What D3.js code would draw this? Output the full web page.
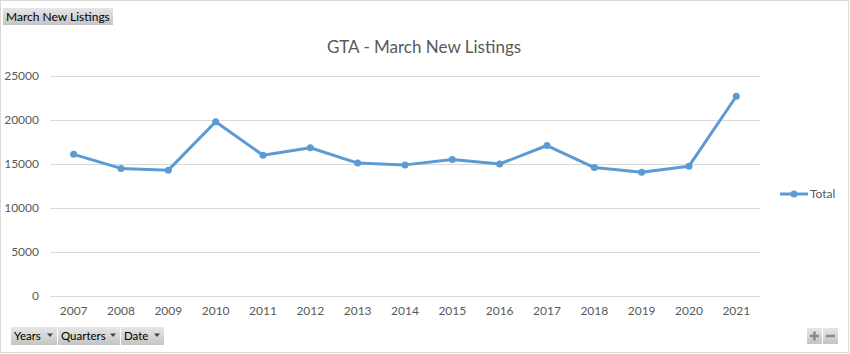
<!DOCTYPE html>
<html>
<head>
<meta charset="utf-8">
<script src="https://cdn.jsdelivr.net/npm/d3@7"></script>
<style>
  body { margin: 0; background: #fff; }
  svg { display: block; font-family: Lato, "Open Sans", sans-serif; }
</style>
</head>
<body>
<div id="chart"></div>
<script>
// GTA March new listings
const years = ["2007", "2008", "2009", "2010", "2011", "2012", "2013", "2014",
               "2015", "2016", "2017", "2018", "2019", "2020", "2021"];
const totals = [16100, 14500, 14300, 19800, 16000, 16850, 15100, 14900,
                15500, 15000, 17100, 14600, 14050, 14750, 22700];
const yTicks = [0, 5000, 10000, 15000, 20000, 25000];
const seriesName = "Total";
const chartTitle = "GTA - March New Listings";
const fieldButtons = ["Years", "Quarters", "Date"];

const width = 850, height = 354;
const plot = { left: 50, right: 760, top: 76, bottom: 296 };
const blue = "#5b9bd5";

const svg = d3.select("#chart").append("svg")
  .attr("width", width)
  .attr("height", height);

const defs = svg.append("defs");
const grad = defs.append("linearGradient")
  .attr("id", "btn").attr("x1", 0).attr("y1", 0).attr("x2", 0).attr("y2", 1);
grad.append("stop").attr("offset", "0%").attr("stop-color", "#e6e6e6");
grad.append("stop").attr("offset", "100%").attr("stop-color", "#c4c4c4");

// outer frame
svg.append("rect")
  .attr("x", 0.5).attr("y", 0.5)
  .attr("width", width - 2).attr("height", height - 2)
  .attr("fill", "#fff")
  .attr("stroke", "#d9d9d9");

const x = d3.scaleBand()
  .domain(years)
  .range([plot.left, plot.right]);

const y = d3.scaleLinear()
  .domain([0, 25000])
  .range([plot.bottom, plot.top]);

// gridlines
svg.append("g")
  .selectAll("line")
  .data(yTicks)
  .join("line")
  .attr("x1", plot.left).attr("x2", plot.right)
  .attr("y1", d => Math.round(y(d)) + 0.5)
  .attr("y2", d => Math.round(y(d)) + 0.5)
  .attr("stroke", "#d9d9d9")
  .attr("stroke-width", 1);

// y axis labels
const yAxis = svg.append("g")
  .attr("transform", `translate(${plot.left},0)`)
  .call(d3.axisLeft(y).tickValues(yTicks).tickSize(0).tickPadding(11).tickFormat(d3.format("d")));
yAxis.select(".domain").remove();
yAxis.selectAll("text")
  .attr("fill", "#595959")
  .style("font-size", "12px")
  .style("font-family", "Lato, sans-serif");

// x axis labels
const xAxis = svg.append("g")
  .attr("transform", `translate(0,${plot.bottom})`)
  .call(d3.axisBottom(x).tickSize(0).tickPadding(10));
xAxis.select(".domain").remove();
xAxis.selectAll("text")
  .attr("fill", "#595959")
  .style("font-size", "12px")
  .style("font-family", "Lato, sans-serif");

// title
svg.append("text")
  .attr("x", (plot.left + plot.right) / 2 + 19)
  .attr("y", 53)
  .attr("text-anchor", "middle")
  .attr("fill", "#595959")
  .style("font-size", "17px")
  .text(chartTitle);

// series
const line = d3.line()
  .x((d, i) => x(years[i]) + x.bandwidth() / 2)
  .y(d => y(d));

svg.append("path")
  .datum(totals)
  .attr("d", line)
  .attr("fill", "none")
  .attr("stroke", blue)
  .attr("stroke-width", 3)
  .attr("stroke-linejoin", "round");

svg.append("g")
  .selectAll("circle")
  .data(totals)
  .join("circle")
  .attr("cx", (d, i) => x(years[i]) + x.bandwidth() / 2)
  .attr("cy", d => y(d))
  .attr("r", 3.5)
  .attr("fill", blue);

// legend
const legend = svg.append("g").attr("transform", "translate(780,194)");
legend.append("line")
  .attr("x1", 0).attr("x2", 28)
  .attr("stroke", blue).attr("stroke-width", 3);
legend.append("circle")
  .attr("cx", 14).attr("r", 3.5).attr("fill", blue);
legend.append("text")
  .attr("x", 30).attr("y", 4)
  .attr("fill", "#595959")
  .style("font-size", "12px")
  .text(seriesName);

// pivot chart field buttons
function button(g, bx, by, bw, bh, label, arrow) {
  g.append("rect")
    .attr("x", bx).attr("y", by).attr("width", bw).attr("height", bh)
    .attr("fill", "url(#btn)");
  g.append("text")
    .attr("x", bx + 3).attr("y", by + bh / 2 + 4)
    .attr("fill", "#000")
    .style("font-size", arrow ? "11.5px" : "12px")
    .text(label);
  if (arrow) {
    const ax = bx + bw - 7, ay = by + bh / 2 - 1;
    g.append("path")
      .attr("d", `M${ax - 3},${ay - 1.5}L${ax + 3},${ay - 1.5}L${ax},${ay + 2}Z`)
      .attr("fill", "#404040");
  }
}

const btns = svg.append("g");
button(btns, 3, 8, 110, 17, "March New Listings", false);

const fieldWidths = [46, 62, 43];
let bx = 11;
fieldButtons.forEach((f, i) => {
  button(btns, bx, 327, fieldWidths[i], 18, f, true);
  bx += fieldWidths[i] + 1;
});

// zoom +/- buttons
const zb = svg.append("g");
[[807, "+"], [823, "-"]].forEach(([zx, s]) => {
  zb.append("rect")
    .attr("x", zx).attr("y", 328).attr("width", 15).attr("height", 16)
    .attr("fill", "url(#btn)");
  zb.append("line")
    .attr("x1", zx + 3).attr("x2", zx + 12)
    .attr("y1", 336).attr("y2", 336)
    .attr("stroke", "#8a8a8a").attr("stroke-width", 2.5);
  if (s === "+") {
    zb.append("line")
      .attr("x1", zx + 7.5).attr("x2", zx + 7.5)
      .attr("y1", 331.5).attr("y2", 340.5)
      .attr("stroke", "#8a8a8a").attr("stroke-width", 2.5);
  }
});
</script>
</body>
</html>
